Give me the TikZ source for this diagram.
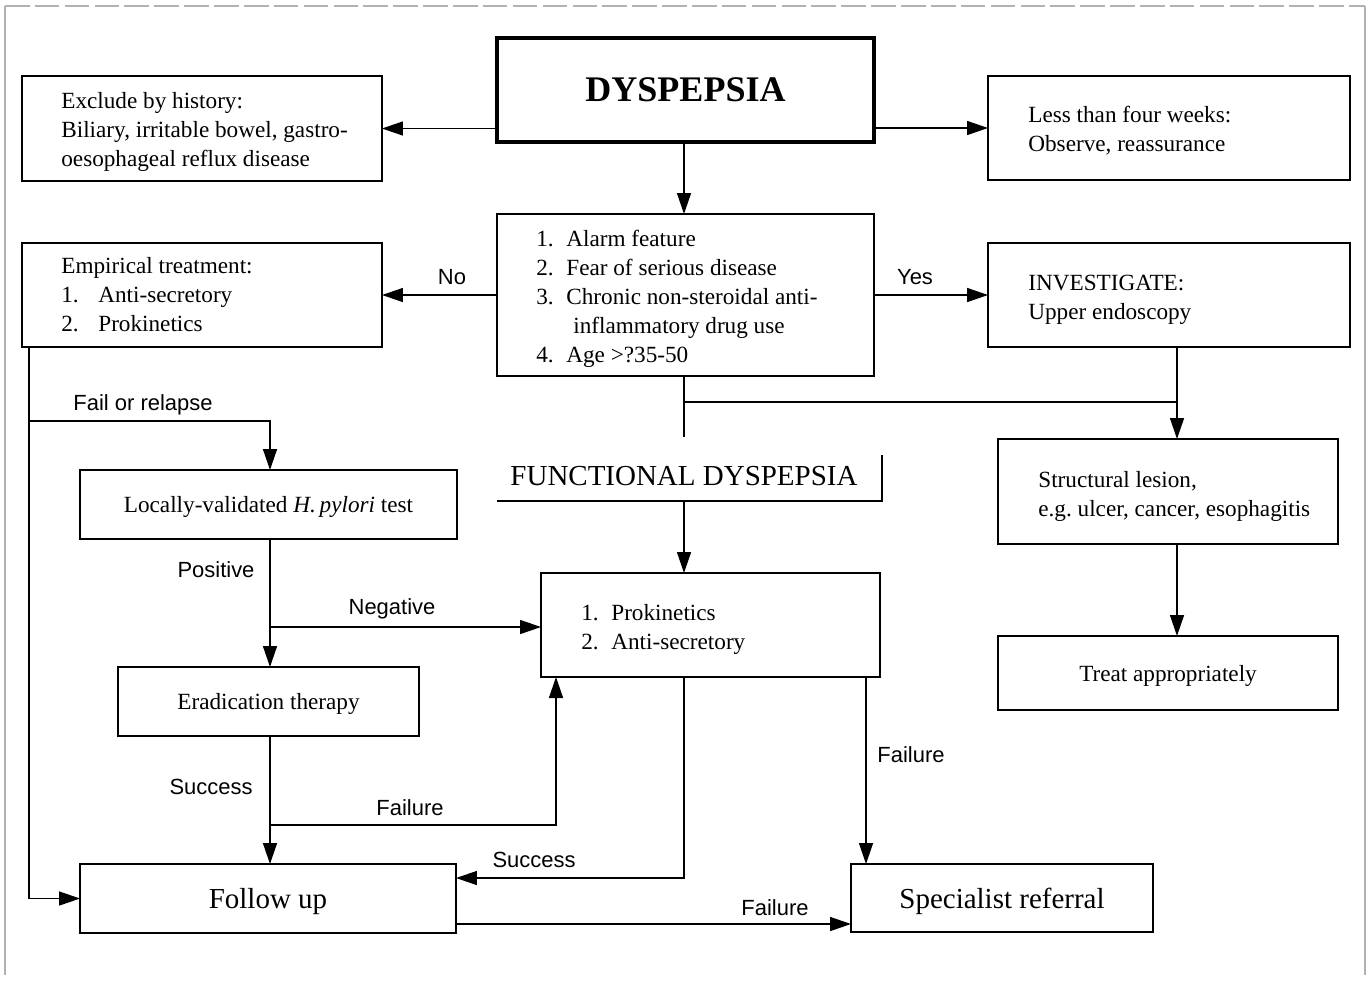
\documentclass[tikz,border=0pt]{standalone}
\usepackage{fontspec}
\setmainfont{Liberation Serif}
\newfontfamily\labfont{Liberation Sans}
\usetikzlibrary{arrows.meta,calc}
\tikzset{
  box/.style={draw, line width=0.8pt, inner sep=0pt, outer sep=0pt},
  txt/.style={inner sep=0pt, align=left, font=\fontsize{13.2}{16.5}\selectfont},
  ctxt/.style={box, align=center, text depth=0pt, font=\fontsize{13.2}{16.5}\selectfont},
  bigtxt/.style={box, align=center, text depth=0pt, font=\fontsize{16.5}{20}\selectfont},
  lab/.style={inner sep=0pt, font=\labfont\fontsize{12.5}{14}\selectfont},
  ln/.style={line width=0.8pt},
  arr/.style={line width=0.8pt, -{Triangle[length=0.42cm,width=0.28cm]}},
  frame/.style={gray!60, line width=0.6pt}
}
\newcommand{\itm}[1]{\makebox[0.6cm][l]{#1}}
\newcommand{\itmb}[1]{\makebox[0.74cm][l]{#1}}
\begin{document}
\begin{tikzpicture}[x=0.02cm, y=-0.02cm]
\useasboundingbox (0,0) rectangle (1371,981);
% page frame
\coordinate (f1) at (5,975);
\coordinate (f2) at (5,6);
\coordinate (f3) at (1365,6);
\coordinate (f4) at (1365,975);
\draw[frame] (f1) -- (f2);
\draw[frame, dash pattern=on 14pt off 3pt] (f2) -- (f3);
\draw[frame] (f3) -- (f4);

% boxes
\node[box, line width=1.8pt, minimum width=7.54cm, minimum height=2.08cm, text depth=0pt,
      font=\bfseries\fontsize{20.5}{24}\selectfont] (dys) at (685.5,90) {DYSPEPSIA};

\node[box, minimum width=7.2cm, minimum height=2.1cm] (excl) at (202,128.5) {};
\node[txt, anchor=west] (exclt) at ([xshift=0.78cm, yshift=-0.07cm]excl.west)
  {Exclude by history:\\ Biliary, irritable bowel, gastro-\\ oesophageal reflux disease};

\node[box, minimum width=7.24cm, minimum height=2.08cm] (less) at (1169,128) {};
\node[txt, anchor=west] (lesst) at ([xshift=0.8cm, yshift=-0.06cm]less.west)
  {Less than four weeks:\\ Observe, reassurance};

\node[box, minimum width=7.54cm, minimum height=3.24cm] (alarm) at (685.5,295) {};
\node[txt, anchor=west] (alarmt) at ([xshift=0.78cm, yshift=-0.08cm]alarm.west)
  {\itm{1.}Alarm feature\\
   \itm{2.}Fear of serious disease\\
   \itm{3.}Chronic non-steroidal anti-\\
   \hspace*{0.74cm}inflammatory drug use\\
   \itm{4.}Age >?35-50};

\node[box, minimum width=7.2cm, minimum height=2.08cm] (emp) at (202,295) {};
\node[txt, anchor=west] (empt) at ([xshift=0.78cm, yshift=0.01cm]emp.west)
  {Empirical treatment:\\ \itmb{1.}Anti-secretory\\ \itmb{2.}Prokinetics};

\node[box, minimum width=7.24cm, minimum height=2.08cm] (inv) at (1169,295) {};
\node[txt, anchor=west] (invt) at ([xshift=0.8cm, yshift=-0.09cm]inv.west)
  {INVESTIGATE:\\ Upper endoscopy};

\node[box, minimum width=6.8cm, minimum height=2.1cm] (str) at (1168,491.5) {};
\node[txt, anchor=west] (strt) at ([xshift=0.8cm, yshift=-0.09cm]str.west)
  {Structural lesion,\\ e.g.\ ulcer, cancer, esophagitis};

\node[ctxt, minimum width=6.8cm, minimum height=1.48cm] (treat) at (1168,673) {Treat appropriately};

\node[ctxt, minimum width=7.54cm, minimum height=1.38cm] (loc) at (268.5,504.5)
  {Locally-validated {\itshape H.\,pylori} test};

\node[box, minimum width=6.78cm, minimum height=2.08cm] (prok) at (710.5,625) {};
\node[txt, anchor=west] (prokt) at ([xshift=0.8cm, yshift=-0.09cm]prok.west)
  {\itm{1.}Prokinetics\\ \itm{2.}Anti-secretory};

\node[ctxt, minimum width=6.02cm, minimum height=1.38cm] (erad) at (268.5,701.5) {Eradication therapy};

\node[bigtxt, minimum width=7.52cm, minimum height=1.38cm] (fu) at (268,898.5) {Follow up};
\node[bigtxt, minimum width=6.04cm, minimum height=1.36cm] (spec) at (1002,898) {Specialist referral};

\node[inner sep=0pt, text depth=0pt, font=\fontsize{16.5}{20}\selectfont] (func) at (684,476) {FUNCTIONAL DYSPEPSIA};
\coordinate (fl) at (497,501);
\coordinate (fr) at (882,501);
\coordinate (ft) at (882,455);
\draw[ln] (fl) -- (fr) -- (ft);

% column / row helpers
\coordinate (xA) at (29,0);
\coordinate (xB) at (270,0);
\coordinate (xC) at (556,0);
\coordinate (xD) at (684,0);
\coordinate (xE) at (866,0);
\coordinate (xF) at (1177,0);
\coordinate (yFail) at (0,421);
\coordinate (yNeg) at (0,627);
\coordinate (yFl) at (0,825);
\coordinate (yJ) at (0,402);
\coordinate (yFe) at (0,437);
\coordinate (ySucc) at (0,878);
\coordinate (yBot) at (0,924);

% connectors
\draw[arr] (dys.west |- excl.east) -- (excl.east);
\draw[arr] (dys.east |- less.west) -- (less.west);
\draw[arr] (dys.south -| xD) -- (alarm.north -| xD);
\draw[arr] (alarm.west) -- (emp.east);
\draw[arr] (alarm.east) -- (inv.west);
\draw[ln] (alarm.south -| xD) -- (xD |- yFe);
\draw[ln] (xD |- yJ) -- (xF |- yJ);
\draw[arr] (inv.south -| xF) -- (str.north -| xF);
\draw[arr] (xD |- fr) -- (prok.north -| xD);
\draw[arr] (str.south -| xF) -- (treat.north -| xF);
\draw[arr] (emp.south -| xA) -- (xA |- fu.west) -- (fu.west);
\draw[arr] (xA |- yFail) -| (loc.north -| xB);
\draw[arr] (loc.south -| xB) -- (erad.north -| xB);
\draw[arr] (xB |- yNeg) -- (prok.west |- yNeg);
\draw[arr] (erad.south -| xB) -- (fu.north -| xB);
\draw[arr] (xB |- yFl) -| (prok.south -| xC);
\draw[arr] (prok.south -| xD) |- (fu.east |- ySucc);
\draw[arr] (prok.south -| xE) -- (spec.north -| xE);
\draw[arr] (fu.east |- yBot) -- (spec.west |- yBot);

% labels
\node[lab] (lNo) at (452,277) {No};
\node[lab] (lYes) at (915,277) {Yes};
\node[lab] (lFail) at (143,405) {Fail or relapse};
\node[lab] (lPos) at (216,570) {Positive};
\node[lab] (lNeg) at (392,609) {Negative};
\node[lab] (lSuc1) at (211,787) {Success};
\node[lab] (lFl1) at (410,808) {Failure};
\node[lab] (lSuc2) at (534,860) {Success};
\node[lab] (lFl2) at (911,755) {Failure};
\node[lab] (lFl3) at (775,908) {Failure};
\end{tikzpicture}
\end{document}
